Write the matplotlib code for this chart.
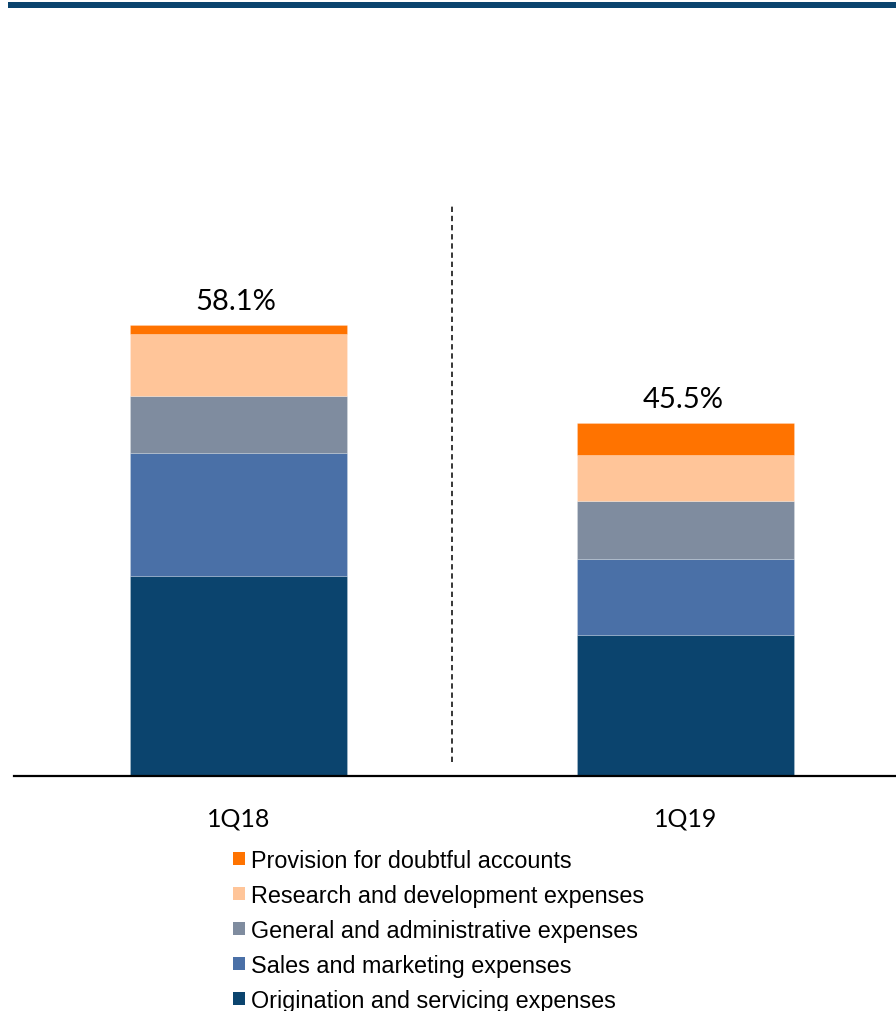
import matplotlib
matplotlib.use("Agg")
import matplotlib.pyplot as plt
from matplotlib.patches import Rectangle
import numpy as np

categories = ["1Q18", "1Q19"]
series_names = [
    "Origination and servicing expenses",
    "Sales and marketing expenses",
    "General and administrative expenses",
    "Research and development expenses",
    "Provision for doubtful accounts",
]
origination = [25.8, 18.1]
sales_marketing = [15.8, 9.9]
general_admin = [7.4, 7.4]
research_dev = [7.9, 6.0]
provision = [1.2, 4.1]
totals = ["58.1%", "45.5%"]

colors = ["#0B446E", "#4A70A7", "#7F8C9F", "#FFC599", "#FF7300"]

W, H = 896, 1012
fig = plt.figure(figsize=(W / 100, H / 100), dpi=100)

# axes placement in pixels
ax_left, ax_right = 14, 896
ax_bottom, ax_top = 777, 30
ax = fig.add_axes([ax_left / W, (H - ax_bottom) / H,
                   (ax_right - ax_left) / W, (ax_bottom - ax_top) / H])

px_per_unit = 7.763
ax.set_ylim(0, (ax_bottom - ax_top) / px_per_unit)
ax.set_xlim(-0.502, 1.471)

x = np.arange(len(categories))
width = 0.4855
series = [origination, sales_marketing, general_admin, research_dev, provision]
bottom = np.zeros(len(categories))
handles = []
for vals, name, col in zip(series, series_names, colors):
    ax.bar(x, vals, width, bottom=bottom, color=col, edgecolor=(1, 1, 1, 0.35),
           linewidth=0.4, label=name)
    bottom += np.array(vals)
    handles.append(Rectangle((0, 0), 1, 1, facecolor=col, edgecolor="none"))

for xi, tot, lab in zip(x, bottom, totals):
    ax.text(xi - 0.005, tot + 1.4, lab, ha="center", va="bottom",
            fontsize=21, family="Lato", color="#000000")

# dashed separator
ax.plot([0.478, 0.478], [1.8, 73.4], linestyle=(0, (3.5, 2.5)), color="black",
        linewidth=1.1)

ax.set_xticks(x)
ax.set_xticklabels(categories, fontsize=18, family="Lato")
ax.tick_params(axis="x", length=0, pad=22)
ax.set_yticks([])
for s in ["top", "right", "left"]:
    ax.spines[s].set_visible(False)
ax.spines["bottom"].set_linewidth(1.6)
ax.spines["bottom"].set_color("black")

# legend (reverse order)
leg = fig.legend(handles[::-1], series_names[::-1], loc="upper left",
                 bbox_to_anchor=(233 / W, 1 - 850 / H), frameon=False,
                 prop={"family": "Liberation Sans", "size": 16.8},
                 handlelength=0.5, handleheight=0.5, handletextpad=0.27,
                 labelspacing=0.515, borderpad=0, borderaxespad=0)

# top decorative rule
fig.add_artist(Rectangle((8 / W, 1 - 9 / H), (W - 8) / W, 6 / H,
                         transform=fig.transFigure, facecolor="#0B446E",
                         edgecolor="none"))

fig.savefig("out.png", dpi=100)
